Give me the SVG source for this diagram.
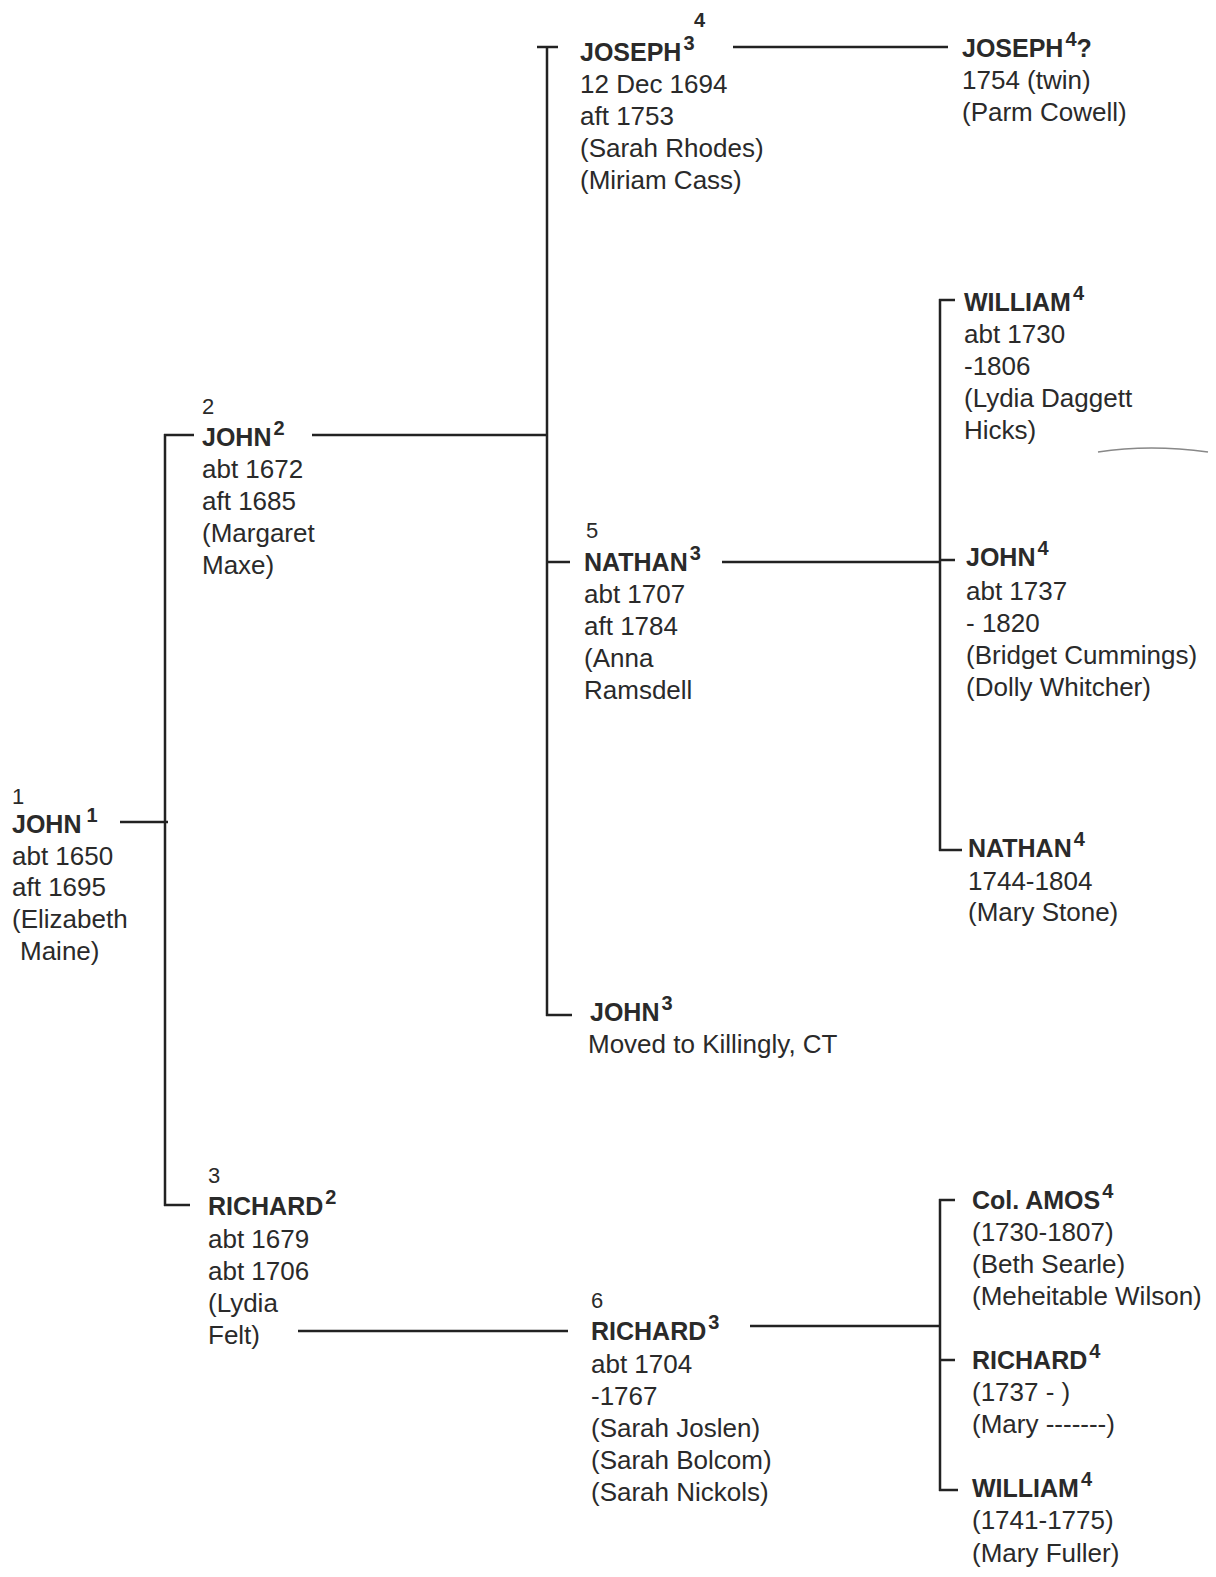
<svg xmlns="http://www.w3.org/2000/svg" width="1216" height="1577" viewBox="0 0 1216 1577">
<style>
text{font-family:"Liberation Sans",Arial,sans-serif;font-size:26px;fill:#2a2a2a}
.b{font-weight:bold;font-size:25px}
.s{font-size:20px;font-weight:bold}
.n{font-size:22px}
line,path{stroke:#222;stroke-width:2.5;fill:none}
</style>
<rect width="1216" height="1577" fill="#fff"/>
<g id="connectors">
<line x1="120" y1="822" x2="168" y2="822"/>
<line x1="165" y1="434" x2="165" y2="1206"/>
<line x1="164" y1="435" x2="194" y2="435"/>
<line x1="164" y1="1205" x2="190" y2="1205"/>
<line x1="312" y1="435" x2="547" y2="435"/>
<line x1="547" y1="47" x2="547" y2="1016"/>
<line x1="537" y1="47" x2="558" y2="47"/>
<line x1="547" y1="562" x2="570" y2="562"/>
<line x1="546" y1="1015" x2="572" y2="1015"/>
<line x1="733" y1="47" x2="948" y2="47"/>
<line x1="722" y1="562" x2="940" y2="562"/>
<line x1="940" y1="299" x2="940" y2="851"/>
<line x1="939" y1="300" x2="955" y2="300"/>
<line x1="940" y1="560" x2="955" y2="560"/>
<line x1="939" y1="850" x2="962" y2="850"/>
<line x1="298" y1="1331" x2="568" y2="1331"/>
<line x1="750" y1="1326" x2="940" y2="1326"/>
<line x1="940" y1="1199" x2="940" y2="1491"/>
<line x1="939" y1="1200" x2="955" y2="1200"/>
<line x1="940" y1="1360" x2="955" y2="1360"/>
<line x1="939" y1="1490" x2="958" y2="1490"/>
<path d="M1098 452 Q1150 444 1208 452" style="stroke:#888;stroke-width:1.5"/>
</g>
<g id="john1">
<text class="n" x="12" y="804">1</text>
<text x="12" y="833"><tspan class="b">JOHN</tspan><tspan class="s" dx="5" dy="-11">1</tspan></text>
<text x="12" y="865">abt 1650</text>
<text x="12" y="896">aft 1695</text>
<text x="12" y="928">(Elizabeth</text>
<text x="20" y="960">Maine)</text>
</g>
<g id="john2">
<text class="n" x="202" y="414">2</text>
<text x="202" y="446"><tspan class="b">JOHN</tspan><tspan class="s" dx="2" dy="-11">2</tspan></text>
<text x="202" y="478">abt 1672</text>
<text x="202" y="510">aft 1685</text>
<text x="202" y="542">(Margaret</text>
<text x="202" y="574">Maxe)</text>
</g>
<g id="richard2">
<text class="n" x="208" y="1183">3</text>
<text x="208" y="1215"><tspan class="b">RICHARD</tspan><tspan class="s" dx="2" dy="-11">2</tspan></text>
<text x="208" y="1248">abt 1679</text>
<text x="208" y="1280">abt 1706</text>
<text x="208" y="1312">(Lydia</text>
<text x="208" y="1344">Felt)</text>
</g>
<g id="joseph3">
<text class="s" x="694" y="27">4</text>
<text x="580" y="61"><tspan class="b">JOSEPH</tspan><tspan class="s" dx="2" dy="-11">3</tspan></text>
<text x="580" y="93">12 Dec 1694</text>
<text x="580" y="125">aft 1753</text>
<text x="580" y="157">(Sarah Rhodes)</text>
<text x="580" y="189">(Miriam Cass)</text>
</g>
<g id="nathan3">
<text class="n" x="586" y="538">5</text>
<text x="584" y="571"><tspan class="b">NATHAN</tspan><tspan class="s" dx="2" dy="-11">3</tspan></text>
<text x="584" y="603">abt 1707</text>
<text x="584" y="635">aft 1784</text>
<text x="584" y="667">(Anna</text>
<text x="584" y="699">Ramsdell</text>
</g>
<g id="john3">
<text x="590" y="1021"><tspan class="b">JOHN</tspan><tspan class="s" dx="2" dy="-11">3</tspan></text>
<text x="588" y="1053">Moved to Killingly, CT</text>
</g>
<g id="richard3">
<text class="n" x="591" y="1308">6</text>
<text x="591" y="1340"><tspan class="b">RICHARD</tspan><tspan class="s" dx="2" dy="-11">3</tspan></text>
<text x="591" y="1373">abt 1704</text>
<text x="591" y="1405">-1767</text>
<text x="591" y="1437">(Sarah Joslen)</text>
<text x="591" y="1469">(Sarah Bolcom)</text>
<text x="591" y="1501">(Sarah Nickols)</text>
</g>
<g id="joseph4">
<text x="962" y="57"><tspan class="b">JOSEPH</tspan><tspan class="s" dx="2" dy="-11">4</tspan><tspan class="b" dy="11">?</tspan></text>
<text x="962" y="89">1754 (twin)</text>
<text x="962" y="121">(Parm Cowell)</text>
</g>
<g id="william4a">
<text x="964" y="311"><tspan class="b">WILLIAM</tspan><tspan class="s" dx="2" dy="-11">4</tspan></text>
<text x="964" y="343">abt 1730</text>
<text x="964" y="375">-1806</text>
<text x="964" y="407">(Lydia Daggett</text>
<text x="964" y="439">Hicks)</text>
</g>
<g id="john4">
<text x="966" y="566"><tspan class="b">JOHN</tspan><tspan class="s" dx="2" dy="-11">4</tspan></text>
<text x="966" y="600">abt 1737</text>
<text x="966" y="632">- 1820</text>
<text x="966" y="664">(Bridget Cummings)</text>
<text x="966" y="696">(Dolly Whitcher)</text>
</g>
<g id="nathan4">
<text x="968" y="857"><tspan class="b">NATHAN</tspan><tspan class="s" dx="2" dy="-11">4</tspan></text>
<text x="968" y="890">1744-1804</text>
<text x="968" y="921">(Mary Stone)</text>
</g>
<g id="amos4">
<text x="972" y="1209"><tspan class="b">Col. AMOS</tspan><tspan class="s" dx="2" dy="-11">4</tspan></text>
<text x="972" y="1241">(1730-1807)</text>
<text x="972" y="1273">(Beth Searle)</text>
<text x="972" y="1305">(Meheitable Wilson)</text>
</g>
<g id="richard4">
<text x="972" y="1369"><tspan class="b">RICHARD</tspan><tspan class="s" dx="2" dy="-11">4</tspan></text>
<text x="972" y="1401">(1737 - )</text>
<text x="972" y="1433">(Mary -------)</text>
</g>
<g id="william4b">
<text x="972" y="1497"><tspan class="b">WILLIAM</tspan><tspan class="s" dx="2" dy="-11">4</tspan></text>
<text x="972" y="1529">(1741-1775)</text>
<text x="972" y="1562">(Mary Fuller)</text>
</g>
</svg>
